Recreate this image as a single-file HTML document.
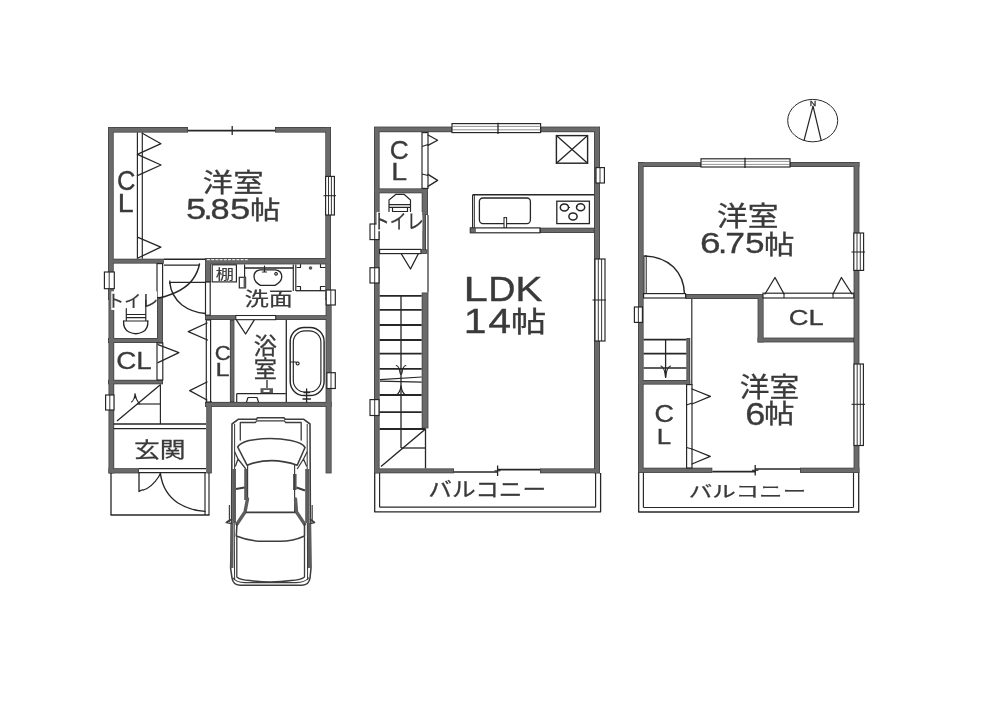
<!DOCTYPE html>
<html lang="ja"><head><meta charset="utf-8"><title>間取り図</title>
<style>html,body{margin:0;padding:0;background:#fff;font-family:"Liberation Sans",sans-serif}svg{display:block}</style>
</head><body>
<svg width="1000" height="706" viewBox="0 0 1000 706" style="filter:grayscale(1)">
<rect width="1000" height="706" fill="#fff"/>
<g id="walls">
<rect x="108.00" y="127.00" width="5.70" height="173.00" fill="#3a3f42"/>
<rect x="108.50" y="298.00" width="5.70" height="175.40" fill="#3a3f42"/>
<rect x="108.00" y="127.00" width="80.00" height="5.60" fill="#3a3f42"/>
<rect x="275.00" y="127.00" width="56.00" height="5.60" fill="#3a3f42"/>
<rect x="325.30" y="127.00" width="5.70" height="173.00" fill="#3a3f42"/>
<rect x="325.60" y="298.00" width="6.00" height="175.40" fill="#3a3f42"/>
<rect x="108.00" y="258.70" width="55.80" height="4.90" fill="#3a3f42"/>
<rect x="205.00" y="258.00" width="126.00" height="6.40" fill="#3a3f42"/>
<rect x="205.00" y="261.00" width="6.00" height="21.00" fill="#3a3f42"/>
<rect x="157.00" y="297.00" width="6.00" height="46.00" fill="#3a3f42"/>
<rect x="108.00" y="338.00" width="55.00" height="5.00" fill="#3a3f42"/>
<rect x="205.00" y="315.20" width="126.00" height="4.80" fill="#3a3f42"/>
<rect x="229.90" y="320.00" width="4.50" height="82.00" fill="#3a3f42"/>
<rect x="205.00" y="401.90" width="126.60" height="5.00" fill="#3a3f42"/>
<rect x="108.00" y="379.80" width="55.00" height="4.50" fill="#3a3f42"/>
<rect x="206.30" y="401.00" width="5.50" height="72.40" fill="#3a3f42"/>
<rect x="108.50" y="468.20" width="30.50" height="5.20" fill="#3a3f42"/>
<rect x="374.00" y="127.00" width="5.60" height="346.30" fill="#3a3f42"/>
<rect x="374.00" y="126.60" width="78.00" height="5.60" fill="#3a3f42"/>
<rect x="540.50" y="126.60" width="59.50" height="5.60" fill="#3a3f42"/>
<rect x="594.00" y="127.00" width="6.00" height="346.30" fill="#3a3f42"/>
<rect x="374.00" y="468.40" width="80.00" height="4.90" fill="#3a3f42"/>
<rect x="540.00" y="468.40" width="60.00" height="4.90" fill="#3a3f42"/>
<rect x="374.00" y="188.40" width="54.00" height="4.90" fill="#3a3f42"/>
<rect x="421.70" y="190.00" width="6.30" height="25.00" fill="#3a3f42"/>
<rect x="422.40" y="213.00" width="3.60" height="40.60" fill="#3a3f42"/>
<rect x="421.70" y="292.50" width="6.70" height="135.90" fill="#3a3f42"/>
<rect x="540.00" y="227.70" width="54.50" height="5.30" fill="#3a3f42"/>
<rect x="638.00" y="162.20" width="5.60" height="310.80" fill="#3a3f42"/>
<rect x="638.00" y="162.20" width="63.00" height="4.80" fill="#3a3f42"/>
<rect x="790.00" y="162.00" width="69.40" height="5.00" fill="#3a3f42"/>
<rect x="853.60" y="162.00" width="5.80" height="311.00" fill="#3a3f42"/>
<rect x="638.00" y="467.70" width="74.30" height="5.20" fill="#3a3f42"/>
<rect x="800.00" y="467.70" width="59.40" height="5.20" fill="#3a3f42"/>
<rect x="685.60" y="294.00" width="77.40" height="5.00" fill="#3a3f42"/>
<rect x="757.60" y="294.00" width="6.00" height="48.40" fill="#3a3f42"/>
<rect x="757.60" y="337.60" width="96.40" height="4.80" fill="#3a3f42"/>
<rect x="686.40" y="338.00" width="3.80" height="47.00" fill="#3a3f42"/>
<rect x="638.00" y="380.00" width="52.20" height="4.60" fill="#3a3f42"/>
<rect x="108.75" y="127.75" width="4.20" height="171.50" fill="#646b6e"/>
<rect x="109.25" y="298.75" width="4.20" height="173.90" fill="#646b6e"/>
<rect x="108.75" y="127.75" width="78.50" height="4.10" fill="#646b6e"/>
<rect x="275.75" y="127.75" width="54.50" height="4.10" fill="#646b6e"/>
<rect x="326.05" y="127.75" width="4.20" height="171.50" fill="#646b6e"/>
<rect x="326.35" y="298.75" width="4.50" height="173.90" fill="#646b6e"/>
<rect x="108.75" y="259.45" width="54.30" height="3.40" fill="#646b6e"/>
<rect x="205.75" y="258.75" width="124.50" height="4.90" fill="#646b6e"/>
<rect x="205.75" y="261.75" width="4.50" height="19.50" fill="#646b6e"/>
<rect x="157.75" y="297.75" width="4.50" height="44.50" fill="#646b6e"/>
<rect x="108.75" y="338.75" width="53.50" height="3.50" fill="#646b6e"/>
<rect x="205.75" y="315.95" width="124.50" height="3.30" fill="#646b6e"/>
<rect x="230.65" y="320.75" width="3.00" height="80.50" fill="#646b6e"/>
<rect x="205.75" y="402.65" width="125.10" height="3.50" fill="#646b6e"/>
<rect x="108.75" y="380.55" width="53.50" height="3.00" fill="#646b6e"/>
<rect x="207.05" y="401.75" width="4.00" height="70.90" fill="#646b6e"/>
<rect x="109.25" y="468.95" width="29.00" height="3.70" fill="#646b6e"/>
<rect x="374.75" y="127.75" width="4.10" height="344.80" fill="#646b6e"/>
<rect x="374.75" y="127.35" width="76.50" height="4.10" fill="#646b6e"/>
<rect x="541.25" y="127.35" width="58.00" height="4.10" fill="#646b6e"/>
<rect x="594.75" y="127.75" width="4.50" height="344.80" fill="#646b6e"/>
<rect x="374.75" y="469.15" width="78.50" height="3.40" fill="#646b6e"/>
<rect x="540.75" y="469.15" width="58.50" height="3.40" fill="#646b6e"/>
<rect x="374.75" y="189.15" width="52.50" height="3.40" fill="#646b6e"/>
<rect x="422.45" y="190.75" width="4.80" height="23.50" fill="#646b6e"/>
<rect x="423.15" y="213.75" width="2.10" height="39.10" fill="#646b6e"/>
<rect x="422.45" y="293.25" width="5.20" height="134.40" fill="#646b6e"/>
<rect x="540.75" y="228.45" width="53.00" height="3.80" fill="#646b6e"/>
<rect x="638.75" y="162.95" width="4.10" height="309.30" fill="#646b6e"/>
<rect x="638.75" y="162.95" width="61.50" height="3.30" fill="#646b6e"/>
<rect x="790.75" y="162.75" width="67.90" height="3.50" fill="#646b6e"/>
<rect x="854.35" y="162.75" width="4.30" height="309.50" fill="#646b6e"/>
<rect x="638.75" y="468.45" width="72.80" height="3.70" fill="#646b6e"/>
<rect x="800.75" y="468.45" width="57.90" height="3.70" fill="#646b6e"/>
<rect x="686.35" y="294.75" width="75.90" height="3.50" fill="#646b6e"/>
<rect x="758.35" y="294.75" width="4.50" height="46.90" fill="#646b6e"/>
<rect x="758.35" y="338.35" width="94.90" height="3.30" fill="#646b6e"/>
<rect x="687.15" y="338.75" width="2.30" height="45.50" fill="#646b6e"/>
<rect x="638.75" y="380.75" width="50.70" height="3.10" fill="#646b6e"/>
</g>
<g id="b1">
<line x1="188.00" y1="130.60" x2="275.00" y2="130.60" stroke="#262626" stroke-width="1.56"/>
<line x1="232.20" y1="126.00" x2="232.20" y2="135.00" stroke="#262626" stroke-width="1.30"/>
<rect x="325.60" y="176.40" width="8.80" height="38.60" rx="0" fill="#fff" stroke="#262626" stroke-width="1.17"/>
<line x1="328.50" y1="176.40" x2="328.50" y2="215.00" stroke="#262626" stroke-width="0.91"/>
<line x1="331.40" y1="176.40" x2="331.40" y2="215.00" stroke="#262626" stroke-width="0.91"/>
<line x1="323.50" y1="195.70" x2="336.00" y2="195.70" stroke="#262626" stroke-width="1.04"/>
<line x1="137.40" y1="132.60" x2="137.40" y2="258.70" stroke="#262626" stroke-width="1.17"/>
<line x1="142.30" y1="132.60" x2="142.30" y2="258.70" stroke="#262626" stroke-width="1.17"/>
<path d="M142.30 133.20 L161.00 143.70 L137.40 154.30 L161.00 165.00 L137.40 175.60" fill="none" stroke="#262626" stroke-width="1.30" stroke-linejoin="round" stroke-linecap="round" />
<path d="M138.00 237.40 L160.80 247.20 L138.00 258.00" fill="none" stroke="#262626" stroke-width="1.30" stroke-linejoin="round" stroke-linecap="round" />
<text transform="matrix(0.25501 0 0 0.27048 116.88 189.56)" font-family="Liberation Sans, sans-serif" font-size="100" font-weight="normal" letter-spacing="0.0" fill="#3a3a3a" stroke="#3a3a3a" stroke-width="1.33">C</text>
<text transform="matrix(0.28690 0 0 0.26381 117.82 211.82)" font-family="Liberation Sans, sans-serif" font-size="100" font-weight="normal" letter-spacing="0.0" fill="#3a3a3a" stroke="#3a3a3a" stroke-width="1.27">L</text>
<line x1="163.80" y1="259.30" x2="205.00" y2="259.30" stroke="#262626" stroke-width="1.43"/>
<line x1="207" y1="259.7" x2="249" y2="259.7" stroke="#fff" stroke-width="1" stroke-dasharray="3 1.2"/>
<rect x="157.00" y="263.60" width="5.60" height="33.90" rx="0" fill="#fff" stroke="#262626" stroke-width="1.17"/>
<rect x="104.40" y="272.00" width="9.90" height="16.70" rx="0" fill="#fff" stroke="#262626" stroke-width="1.17"/>
<line x1="109.20" y1="272.00" x2="109.20" y2="288.70" stroke="#262626" stroke-width="0.91"/>
<rect x="111.30" y="291.40" width="45.70" height="18.60" fill="#fff"/>
<text transform="matrix(0.1704 0 0 0.1690 107.12 307.19)" font-family="'Liberation Sans', 'Noto Sans CJK JP', sans-serif" font-size="100" font-weight="normal" fill="#3a3a3a" stroke="#3a3a3a" stroke-width="1.5">トイレ</text>
<path d="M126.3 308.5 L126.3 321 M145.8 300 L145.8 321 M126.3 314.5 L145.8 314.5 M126.3 317.7 L145.8 317.7 M124 321 L148 321" fill="none" stroke="#262626" stroke-width="1.17" stroke-linejoin="round" stroke-linecap="round" />
<path d="M123.6 321 Q123 329 129 332 Q136 335.5 142.5 332 Q148.5 329 147.8 321" fill="none" stroke="#262626" stroke-width="1.30" stroke-linejoin="round" stroke-linecap="round" />
<line x1="163.80" y1="265.10" x2="199.00" y2="265.10" stroke="#262626" stroke-width="1.30"/>
<path d="M199.5 264 Q198 272 193 279 Q184 292 159 298" fill="none" stroke="#262626" stroke-width="1.43" stroke-linejoin="round" stroke-linecap="round" />
<line x1="169.80" y1="282.40" x2="205.50" y2="282.40" stroke="#262626" stroke-width="1.30"/>
<line x1="169.80" y1="280.50" x2="169.80" y2="284.00" stroke="#262626" stroke-width="1.17"/>
<path d="M169.8 282.4 Q171 296 182 305 Q192 312.5 205.5 313.5" fill="none" stroke="#262626" stroke-width="1.43" stroke-linejoin="round" stroke-linecap="round" />
<rect x="205.50" y="282.00" width="4.70" height="33.20" rx="0" fill="#fff" stroke="#262626" stroke-width="1.17"/>
<rect x="235.80" y="315.50" width="39.90" height="4.20" rx="0" fill="#fff" stroke="#262626" stroke-width="1.04"/>
<rect x="212.20" y="264.80" width="24.20" height="17.10" rx="0" fill="#fff" stroke="#262626" stroke-width="1.17"/>
<text transform="matrix(0.1825 0 0 0.1350 215.70 278.94)" font-family="'Liberation Sans', 'Noto Sans CJK JP', sans-serif" font-size="100" font-weight="normal" fill="#3a3a3a" stroke="#3a3a3a" stroke-width="1.0">棚</text>
<line x1="244.60" y1="268.00" x2="293.30" y2="268.00" stroke="#262626" stroke-width="1.30"/>
<line x1="244.60" y1="264.40" x2="244.60" y2="288.00" stroke="#262626" stroke-width="1.17"/>
<line x1="293.30" y1="264.40" x2="293.30" y2="291.00" stroke="#262626" stroke-width="1.17"/>
<line x1="295.80" y1="264.40" x2="295.80" y2="291.00" stroke="#262626" stroke-width="1.17"/>
<path d="M260 269.8 L275.5 269.8 Q281.8 270.5 281.8 277 Q281.5 282 275 285.3 L260.5 285.3 Q254.2 282 254 277 Q254 270.5 260 269.8 Z" fill="none" stroke="#262626" stroke-width="1.30" stroke-linejoin="round" stroke-linecap="round" />
<path d="M264.5 266 L264.5 272 M262.5 272 L266.5 272 M276 272.5 a1.3 1.3 0 1 0 0.1 0" fill="none" stroke="#262626" stroke-width="1.17" stroke-linejoin="round" stroke-linecap="round" />
<rect x="239.30" y="277.30" width="6.30" height="10.60" rx="0" fill="#fff" stroke="#262626" stroke-width="1.17"/>
<rect x="243.60" y="277.30" width="2.20" height="10.60" fill="#565b5e"/>
<line x1="295.80" y1="290.70" x2="325.30" y2="290.70" stroke="#262626" stroke-width="1.30"/>
<path d="M297 267.5 L300.5 267.5 L300.5 264.5 M320.5 264.5 L320.5 267.5 L325 267.5 M297 286.5 L300.5 286.5 L300.5 290.5 M320.5 290.5 L320.5 286.5 L325 286.5" fill="none" stroke="#262626" stroke-width="1.17" stroke-linejoin="round" stroke-linecap="round" />
<circle cx="310.5" cy="268" r="1.8" fill="#555"/>
<rect x="326.20" y="290.00" width="9.10" height="15.00" rx="0" fill="#fff" stroke="#262626" stroke-width="1.17"/>
<line x1="330.80" y1="290.00" x2="330.80" y2="305.00" stroke="#262626" stroke-width="0.91"/>
<text transform="matrix(0.2406 0 0 0.1913 244.78 306.43)" font-family="'Liberation Sans', 'Noto Sans CJK JP', sans-serif" font-size="100" font-weight="normal" fill="#3a3a3a" stroke="#3a3a3a" stroke-width="1.3">洗面</text>
<rect x="206.30" y="320.00" width="4.30" height="82.00" rx="0" fill="#fff" stroke="#262626" stroke-width="1.17"/>
<text transform="matrix(0.22185 0 0 0.20268 214.65 360.13)" font-family="Liberation Sans, sans-serif" font-size="100" font-weight="normal" letter-spacing="0.0" fill="#3a3a3a" stroke="#3a3a3a" stroke-width="1.65">C</text>
<text transform="matrix(0.25288 0 0 0.18678 215.60 375.82)" font-family="Liberation Sans, sans-serif" font-size="100" font-weight="normal" letter-spacing="0.0" fill="#3a3a3a" stroke="#3a3a3a" stroke-width="1.59">L</text>
<path d="M207.00 323.00 L188.30 331.70 L207.50 340.00" fill="none" stroke="#262626" stroke-width="1.30" stroke-linejoin="round" stroke-linecap="round" />
<path d="M207.00 382.00 L189.70 390.60 L207.00 400.00" fill="none" stroke="#262626" stroke-width="1.30" stroke-linejoin="round" stroke-linecap="round" />
<path d="M236.70 320.30 L245.60 334.00 L254.00 320.30" fill="none" stroke="#262626" stroke-width="1.30" stroke-linejoin="round" stroke-linecap="round" />
<text transform="matrix(0.2318 0 0 0.2290 253.83 353.94)" font-family="'Liberation Sans', 'Noto Sans CJK JP', sans-serif" font-size="100" font-weight="normal" fill="#3a3a3a" stroke="#3a3a3a" stroke-width="1.3"><tspan x="0" y="0">浴</tspan><tspan x="0" y="100">室</tspan></text>
<line x1="267.00" y1="380.00" x2="267.00" y2="388.00" stroke="#262626" stroke-width="1.30"/>
<rect x="260.50" y="388.20" width="12.50" height="5.00" fill="#565b5e"/>
<rect x="263.50" y="390.00" width="6.00" height="2.00" fill="#fff"/>
<line x1="236.70" y1="393.70" x2="285.80" y2="393.70" stroke="#262626" stroke-width="1.30"/>
<line x1="236.70" y1="393.70" x2="236.70" y2="402.00" stroke="#262626" stroke-width="1.17"/>
<path d="M246.5 402 L248 397.5 L257 397.5 L258.5 402" fill="none" stroke="#262626" stroke-width="1.17" stroke-linejoin="round" stroke-linecap="round" />
<line x1="286.30" y1="320.00" x2="286.30" y2="402.00" stroke="#262626" stroke-width="1.30"/>
<rect x="290.20" y="327.50" width="33.90" height="68.00" rx="14" fill="#fff" stroke="#262626" stroke-width="1.43"/>
<rect x="293.30" y="330.80" width="27.60" height="61.20" rx="11.5" fill="#fff" stroke="#262626" stroke-width="1.17"/>
<path d="M290.5 362 L296 362 M297.6 362 a1.5 1.5 0 1 0 0.1 0" fill="none" stroke="#262626" stroke-width="1.17" stroke-linejoin="round" stroke-linecap="round" />
<path d="M306.6 389 L306.6 402 M304 392.5 L309.5 392.5 M303 399 L310.5 399" fill="none" stroke="#262626" stroke-width="1.30" stroke-linejoin="round" stroke-linecap="round" />
<rect x="326.90" y="372.70" width="8.40" height="15.80" rx="0" fill="#fff" stroke="#262626" stroke-width="1.17"/>
<line x1="331.00" y1="372.70" x2="331.00" y2="388.50" stroke="#262626" stroke-width="0.91"/>
<rect x="157.00" y="343.00" width="5.80" height="37.00" rx="0" fill="#fff" stroke="#262626" stroke-width="1.17"/>
<path d="M158.00 344.60 L178.90 352.60 L158.00 362.60" fill="none" stroke="#262626" stroke-width="1.30" stroke-linejoin="round" stroke-linecap="round" />
<text transform="matrix(0.27840 0 0 0.24364 116.16 369.19)" font-family="Liberation Sans, sans-serif" font-size="100" font-weight="normal" letter-spacing="0.0" fill="#3a3a3a" stroke="#3a3a3a" stroke-width="1.34">CL</text>
<line x1="160.40" y1="384.30" x2="160.40" y2="424.00" stroke="#262626" stroke-width="1.17"/>
<line x1="160.00" y1="385.00" x2="117.00" y2="421.00" stroke="#262626" stroke-width="1.30"/>
<line x1="137.00" y1="404.00" x2="160.40" y2="404.00" stroke="#262626" stroke-width="1.17"/>
<path d="M131.5 402 Q134.5 400 135 393.5 Q136 400 139.5 404 M135 393.5 L135 398" fill="none" stroke="#262626" stroke-width="1.04" stroke-linejoin="round" stroke-linecap="round" />
<rect x="105.60" y="395.00" width="8.40" height="15.00" rx="0" fill="#fff" stroke="#262626" stroke-width="1.17"/>
<line x1="109.80" y1="395.00" x2="109.80" y2="410.00" stroke="#262626" stroke-width="0.91"/>
<line x1="113.70" y1="424.00" x2="206.00" y2="424.00" stroke="#262626" stroke-width="1.30"/>
<line x1="113.70" y1="428.60" x2="206.00" y2="428.60" stroke="#262626" stroke-width="1.30"/>
<text transform="matrix(0.2578 0 0 0.2101 134.01 456.58)" font-family="'Liberation Sans', 'Noto Sans CJK JP', sans-serif" font-size="100" font-weight="normal" fill="#3a3a3a" stroke="#3a3a3a" stroke-width="1.3">玄関</text>
<line x1="139.00" y1="468.60" x2="206.00" y2="468.60" stroke="#262626" stroke-width="1.17"/>
<line x1="139.00" y1="472.60" x2="206.00" y2="472.60" stroke="#262626" stroke-width="1.17"/>
<line x1="111.00" y1="473.00" x2="111.00" y2="515.00" stroke="#262626" stroke-width="1.30"/>
<line x1="110.50" y1="515.00" x2="209.50" y2="515.00" stroke="#262626" stroke-width="1.43"/>
<line x1="205.00" y1="473.00" x2="205.00" y2="515.00" stroke="#262626" stroke-width="1.17"/>
<line x1="209.00" y1="473.00" x2="209.00" y2="515.00" stroke="#262626" stroke-width="1.17"/>
<path d="M139 473 L139 491.6 Q141.5 489.5 143.5 490 Q152 487 158.5 477 L160.4 473.5" fill="none" stroke="#262626" stroke-width="1.30" stroke-linejoin="round" stroke-linecap="round" />
<path d="M160.4 473.5 Q163 493 178 503 Q190 510.5 205 511.4" fill="none" stroke="#262626" stroke-width="1.43" stroke-linejoin="round" stroke-linecap="round" />
</g>
<g id="t1">
<text transform="matrix(0.3043 0 0 0.2578 202.72 191.80)" font-family="'Liberation Sans', 'Noto Sans CJK JP', sans-serif" font-size="100" font-weight="normal" fill="#3a3a3a" stroke="#3a3a3a" stroke-width="1.2">洋室</text>
<text transform="matrix(0.36172 0 0 0.29882 186.03 218.73)" font-family="Liberation Sans, sans-serif" font-size="100" font-weight="normal" letter-spacing="0.0" fill="#3a3a3a" stroke="#3a3a3a" stroke-width="1.06">5</text>
<text transform="matrix(0.34417 0 0 0.29449 210.58 218.74)" font-family="Liberation Sans, sans-serif" font-size="100" font-weight="normal" letter-spacing="0.0" fill="#3a3a3a" stroke="#3a3a3a" stroke-width="1.10">8</text>
<text transform="matrix(0.36383 0 0 0.29882 229.92 218.73)" font-family="Liberation Sans, sans-serif" font-size="100" font-weight="normal" letter-spacing="0.0" fill="#3a3a3a" stroke="#3a3a3a" stroke-width="1.06">5</text>
<text transform="matrix(0.34133 0 0 0.32263 203.26 219.02)" font-family="Liberation Sans, sans-serif" font-size="100" font-weight="normal" letter-spacing="0.0" fill="#3a3a3a" stroke="#3a3a3a" stroke-width="1.05">.</text>
<text transform="matrix(0.3047 0 0 0.2523 250.05 218.84)" font-family="'Liberation Sans', 'Noto Sans CJK JP', sans-serif" font-size="100" font-weight="normal" fill="#3a3a3a" stroke="#3a3a3a" stroke-width="1.2">帖</text>
</g>
<g id="b2">
<rect x="452.00" y="123.60" width="88.60" height="9.00" rx="0" fill="#fff" stroke="#262626" stroke-width="1.17"/>
<line x1="452.00" y1="126.40" x2="540.60" y2="126.40" stroke="#777" stroke-width="0.78"/>
<line x1="452.00" y1="129.80" x2="540.60" y2="129.80" stroke="#777" stroke-width="0.78"/>
<line x1="498.00" y1="122.80" x2="498.00" y2="134.00" stroke="#262626" stroke-width="1.30"/>
<line x1="454.00" y1="472.00" x2="498.00" y2="472.00" stroke="#262626" stroke-width="1.56"/>
<line x1="497.00" y1="469.60" x2="540.00" y2="469.60" stroke="#262626" stroke-width="1.56"/>
<line x1="497.60" y1="465.50" x2="497.60" y2="476.00" stroke="#262626" stroke-width="1.30"/>
<line x1="494.50" y1="470.80" x2="500.50" y2="470.80" stroke="#262626" stroke-width="1.04"/>
<rect x="596.00" y="167.60" width="8.40" height="15.40" rx="0" fill="#fff" stroke="#262626" stroke-width="1.17"/>
<line x1="600.00" y1="167.60" x2="600.00" y2="183.00" stroke="#262626" stroke-width="0.91"/>
<rect x="595.00" y="259.00" width="10.00" height="82.00" rx="0" fill="#fff" stroke="#262626" stroke-width="1.17"/>
<line x1="598.30" y1="259.00" x2="598.30" y2="341.00" stroke="#262626" stroke-width="0.91"/>
<line x1="601.60" y1="259.00" x2="601.60" y2="341.00" stroke="#262626" stroke-width="0.91"/>
<line x1="592.50" y1="300.00" x2="606.00" y2="300.00" stroke="#262626" stroke-width="1.04"/>
<rect x="422.00" y="132.60" width="6.00" height="55.80" rx="0" fill="#fff" stroke="#262626" stroke-width="1.17"/>
<path d="M428.00 135.00 L437.60 140.20 L428.00 145.40" fill="none" stroke="#262626" stroke-width="1.30" stroke-linejoin="round" stroke-linecap="round" />
<line x1="422.00" y1="146.50" x2="428.00" y2="144.50" stroke="#262626" stroke-width="1.04"/>
<path d="M428.00 174.40 L437.60 180.40 L428.00 186.40" fill="none" stroke="#262626" stroke-width="1.30" stroke-linejoin="round" stroke-linecap="round" />
<line x1="422.00" y1="174.00" x2="428.00" y2="175.50" stroke="#262626" stroke-width="1.04"/>
<text transform="matrix(0.26291 0 0 0.24929 389.84 158.58)" font-family="Liberation Sans, sans-serif" font-size="100" font-weight="normal" letter-spacing="0.0" fill="#3a3a3a" stroke="#3a3a3a" stroke-width="1.37">C</text>
<text transform="matrix(0.28463 0 0 0.24201 391.34 179.82)" font-family="Liberation Sans, sans-serif" font-size="100" font-weight="normal" letter-spacing="0.0" fill="#3a3a3a" stroke="#3a3a3a" stroke-width="1.33">L</text>
<line x1="428.00" y1="215.00" x2="428.00" y2="292.50" stroke="#262626" stroke-width="1.17"/>
<path d="M389 211.5 L389 200 L396 194.3 L404 194.3 L410.5 200 L410.5 211.5 M389 204.6 L410.5 204.6 M389 207.3 L410.5 207.3 M392.5 207.3 L392.5 211.5 L407.5 211.5 L407.5 207.3" fill="none" stroke="#262626" stroke-width="1.17" stroke-linejoin="round" stroke-linecap="round" />
<rect x="370.00" y="224.00" width="9.00" height="15.60" rx="0" fill="#fff" stroke="#262626" stroke-width="1.17"/>
<line x1="374.70" y1="224.00" x2="374.70" y2="239.60" stroke="#262626" stroke-width="0.91"/>
<rect x="376.60" y="212.00" width="45.60" height="19.20" fill="#fff"/>
<text transform="matrix(0.1696 0 0 0.2007 372.74 229.27)" font-family="'Liberation Sans', 'Noto Sans CJK JP', sans-serif" font-size="100" font-weight="normal" fill="#3a3a3a" stroke="#3a3a3a" stroke-width="1.5">トイレ</text>
<rect x="379.60" y="249.40" width="41.40" height="4.20" rx="0" fill="#fff" stroke="#262626" stroke-width="1.17"/>
<rect x="421.00" y="249.40" width="6.40" height="4.40" fill="#3a3f42"/>
<rect x="421.75" y="250.15" width="4.90" height="2.90" fill="#646b6e"/>
<path d="M401.40 254.00 L410.50 269.00 L418.20 254.00" fill="none" stroke="#262626" stroke-width="1.30" stroke-linejoin="round" stroke-linecap="round" />
<rect x="370.00" y="267.70" width="9.00" height="15.30" rx="0" fill="#fff" stroke="#262626" stroke-width="1.17"/>
<line x1="374.70" y1="267.70" x2="374.70" y2="283.00" stroke="#262626" stroke-width="0.91"/>
<line x1="379.60" y1="295.80" x2="421.70" y2="295.80" stroke="#262626" stroke-width="1.82"/>
<line x1="379.60" y1="309.80" x2="421.70" y2="309.80" stroke="#262626" stroke-width="1.82"/>
<line x1="379.60" y1="325.00" x2="421.70" y2="325.00" stroke="#262626" stroke-width="1.82"/>
<line x1="379.60" y1="340.00" x2="421.70" y2="340.00" stroke="#262626" stroke-width="1.82"/>
<line x1="379.60" y1="353.60" x2="421.70" y2="353.60" stroke="#262626" stroke-width="1.82"/>
<line x1="379.60" y1="368.80" x2="421.70" y2="368.80" stroke="#262626" stroke-width="1.82"/>
<line x1="379.60" y1="395.00" x2="421.70" y2="395.00" stroke="#262626" stroke-width="1.82"/>
<line x1="379.60" y1="412.20" x2="421.70" y2="412.20" stroke="#262626" stroke-width="1.82"/>
<line x1="379.60" y1="429.00" x2="425.50" y2="429.00" stroke="#262626" stroke-width="1.82"/>
<line x1="401.00" y1="295.80" x2="401.00" y2="448.00" stroke="#262626" stroke-width="1.30"/>
<line x1="380.00" y1="379.60" x2="421.70" y2="377.00" stroke="#262626" stroke-width="1.17"/>
<line x1="380.00" y1="381.20" x2="421.70" y2="382.20" stroke="#262626" stroke-width="1.17"/>
<path d="M396.3 365.5 Q399 366 400 372.5 Q401 376.5 402 372.5 Q403 366 405.8 365.5" fill="none" stroke="#262626" stroke-width="1.17" stroke-linejoin="round" stroke-linecap="round" />
<path d="M396.3 395 Q400 393 401 385.8 Q402 393 405.7 395" fill="none" stroke="#262626" stroke-width="1.17" stroke-linejoin="round" stroke-linecap="round" />
<rect x="370.00" y="399.60" width="9.00" height="15.90" rx="0" fill="#fff" stroke="#262626" stroke-width="1.17"/>
<line x1="374.70" y1="399.60" x2="374.70" y2="415.50" stroke="#262626" stroke-width="0.91"/>
<line x1="425.50" y1="429.00" x2="425.50" y2="468.40" stroke="#262626" stroke-width="1.30"/>
<line x1="425.50" y1="429.00" x2="381.00" y2="466.50" stroke="#262626" stroke-width="1.43"/>
<line x1="401.00" y1="448.00" x2="425.50" y2="448.00" stroke="#262626" stroke-width="1.30"/>
<line x1="472.60" y1="194.80" x2="594.00" y2="194.80" stroke="#262626" stroke-width="1.43"/>
<line x1="472.60" y1="194.80" x2="472.60" y2="228.00" stroke="#262626" stroke-width="1.17"/>
<line x1="474.40" y1="194.80" x2="474.40" y2="228.00" stroke="#262626" stroke-width="0.91"/>
<rect x="479.40" y="198.00" width="51.00" height="25.60" rx="3.5" fill="#fff" stroke="#262626" stroke-width="1.30"/>
<rect x="504.00" y="217.60" width="2.60" height="10.40" rx="0" fill="#fff" stroke="#262626" stroke-width="1.04"/>
<rect x="556.80" y="201.20" width="32.60" height="22.40" rx="0" fill="#fff" stroke="#262626" stroke-width="1.30"/>
<ellipse cx="564.4" cy="207.4" rx="4.1" ry="3.5" fill="#fff" stroke="#262626" stroke-width="1.5"/>
<ellipse cx="580.6" cy="207.2" rx="4.1" ry="3.5" fill="#fff" stroke="#262626" stroke-width="1.5"/>
<ellipse cx="573" cy="216.4" rx="4.1" ry="3.5" fill="#fff" stroke="#262626" stroke-width="1.5"/>
<line x1="576.00" y1="206.00" x2="578.00" y2="206.00" stroke="#262626" stroke-width="1.04"/>
<line x1="568.00" y1="207.50" x2="570.00" y2="207.50" stroke="#262626" stroke-width="1.04"/>
<rect x="470.30" y="227.90" width="69.70" height="4.90" rx="0" fill="#fff" stroke="#262626" stroke-width="1.17"/>
<rect x="470.00" y="227.70" width="5.70" height="5.30" fill="#3a3f42"/>
<rect x="470.75" y="228.45" width="4.20" height="3.80" fill="#646b6e"/>
<rect x="556.40" y="135.60" width="31.20" height="27.60" rx="0" fill="#fff" stroke="#262626" stroke-width="1.43"/>
<line x1="556.40" y1="135.60" x2="587.60" y2="163.20" stroke="#262626" stroke-width="1.30"/>
<line x1="587.60" y1="135.60" x2="556.40" y2="163.20" stroke="#262626" stroke-width="1.30"/>
<text transform="matrix(0.43886 0 0 0.34812 463.58 301.12)" font-family="Liberation Sans, sans-serif" font-size="100" font-weight="normal" letter-spacing="0.0" fill="#3a3a3a" stroke="#3a3a3a" stroke-width="0.89">L</text>
<text transform="matrix(0.37735 0 0 0.34812 488.28 301.12)" font-family="Liberation Sans, sans-serif" font-size="100" font-weight="normal" letter-spacing="0.0" fill="#3a3a3a" stroke="#3a3a3a" stroke-width="0.96">D</text>
<text transform="matrix(0.40873 0 0 0.34812 515.22 301.12)" font-family="Liberation Sans, sans-serif" font-size="100" font-weight="normal" letter-spacing="0.0" fill="#3a3a3a" stroke="#3a3a3a" stroke-width="0.92">K</text>
<text transform="matrix(0.40980 0 0 0.35538 463.70 332.82)" font-family="Liberation Sans, sans-serif" font-size="100" font-weight="normal" letter-spacing="0.0" fill="#3a3a3a" stroke="#3a3a3a" stroke-width="0.91">1</text>
<text transform="matrix(0.40980 0 0 0.35538 488.23 332.82)" font-family="Liberation Sans, sans-serif" font-size="100" font-weight="normal" letter-spacing="0.0" fill="#3a3a3a" stroke="#3a3a3a" stroke-width="0.91">4</text>
<text transform="matrix(0.3559 0 0 0.2855 510.65 331.61)" font-family="'Liberation Sans', 'Noto Sans CJK JP', sans-serif" font-size="100" font-weight="normal" fill="#3a3a3a" stroke="#3a3a3a" stroke-width="1.0">帖</text>
<line x1="374.70" y1="473.00" x2="374.70" y2="511.90" stroke="#262626" stroke-width="1.30"/>
<line x1="379.60" y1="473.00" x2="379.60" y2="507.20" stroke="#262626" stroke-width="1.17"/>
<line x1="379.60" y1="507.20" x2="595.60" y2="507.20" stroke="#262626" stroke-width="1.17"/>
<line x1="374.20" y1="511.90" x2="601.00" y2="511.90" stroke="#262626" stroke-width="1.43"/>
<line x1="595.60" y1="473.00" x2="595.60" y2="507.20" stroke="#262626" stroke-width="1.17"/>
<line x1="600.60" y1="473.00" x2="600.60" y2="511.90" stroke="#262626" stroke-width="1.30"/>
<text transform="matrix(0.2370 0 0 0.2034 428.23 497.38)" font-family="'Liberation Sans', 'Noto Sans CJK JP', sans-serif" font-size="100" font-weight="normal" fill="#3a3a3a" stroke="#3a3a3a" stroke-width="1.5">バルコニー</text>
</g>
<g id="b3">
<rect x="701.00" y="158.80" width="89.00" height="8.20" rx="0" fill="#fff" stroke="#262626" stroke-width="1.17"/>
<line x1="701.00" y1="161.40" x2="790.00" y2="161.40" stroke="#777" stroke-width="0.78"/>
<line x1="701.00" y1="164.40" x2="790.00" y2="164.40" stroke="#777" stroke-width="0.78"/>
<line x1="745.00" y1="157.80" x2="745.00" y2="168.00" stroke="#262626" stroke-width="1.30"/>
<line x1="712.30" y1="471.60" x2="756.00" y2="471.60" stroke="#262626" stroke-width="1.56"/>
<line x1="755.00" y1="469.00" x2="800.00" y2="469.00" stroke="#262626" stroke-width="1.56"/>
<line x1="755.20" y1="465.00" x2="755.20" y2="475.50" stroke="#262626" stroke-width="1.30"/>
<line x1="752.00" y1="470.30" x2="758.50" y2="470.30" stroke="#262626" stroke-width="1.04"/>
<rect x="853.80" y="233.00" width="9.80" height="37.40" rx="0" fill="#fff" stroke="#262626" stroke-width="1.17"/>
<line x1="857.00" y1="233.00" x2="857.00" y2="270.40" stroke="#262626" stroke-width="0.91"/>
<line x1="860.30" y1="233.00" x2="860.30" y2="270.40" stroke="#262626" stroke-width="0.91"/>
<line x1="851.50" y1="252.00" x2="865.00" y2="252.00" stroke="#262626" stroke-width="1.04"/>
<rect x="854.00" y="364.00" width="9.40" height="81.50" rx="0" fill="#fff" stroke="#262626" stroke-width="1.17"/>
<line x1="857.20" y1="364.00" x2="857.20" y2="445.50" stroke="#262626" stroke-width="0.91"/>
<line x1="860.30" y1="364.00" x2="860.30" y2="445.50" stroke="#262626" stroke-width="0.91"/>
<line x1="851.50" y1="404.30" x2="865.00" y2="404.30" stroke="#262626" stroke-width="1.04"/>
<rect x="634.40" y="307.00" width="8.00" height="15.40" rx="0" fill="#fff" stroke="#262626" stroke-width="1.17"/>
<line x1="638.40" y1="307.00" x2="638.40" y2="322.40" stroke="#262626" stroke-width="0.91"/>
<rect x="644.00" y="256.00" width="2.20" height="37.60" rx="0" fill="#fff" stroke="#262626" stroke-width="1.04"/>
<path d="M645 256 Q662 256.5 673.5 267 Q684 277.5 684.5 294" fill="none" stroke="#262626" stroke-width="1.43" stroke-linejoin="round" stroke-linecap="round" />
<rect x="643.60" y="293.60" width="42.00" height="4.40" rx="0" fill="#fff" stroke="#262626" stroke-width="1.17"/>
<rect x="763.00" y="293.20" width="90.80" height="4.80" rx="0" fill="#fff" stroke="#262626" stroke-width="1.17"/>
<line x1="784.00" y1="293.20" x2="784.00" y2="298.00" stroke="#262626" stroke-width="1.04"/>
<line x1="833.00" y1="293.20" x2="833.00" y2="298.00" stroke="#262626" stroke-width="1.04"/>
<path d="M765.00 294.00 L775.00 277.50 L784.00 294.00" fill="none" stroke="#262626" stroke-width="1.30" stroke-linejoin="round" stroke-linecap="round" />
<path d="M833.00 294.00 L841.40 277.50 L852.00 294.00" fill="none" stroke="#262626" stroke-width="1.30" stroke-linejoin="round" stroke-linecap="round" />
<text transform="matrix(0.27337 0 0 0.21822 788.79 324.61)" font-family="Liberation Sans, sans-serif" font-size="100" font-weight="normal" letter-spacing="0.0" fill="#3a3a3a" stroke="#3a3a3a" stroke-width="1.42">CL</text>
<line x1="691.80" y1="299.00" x2="691.80" y2="385.00" stroke="#262626" stroke-width="1.17"/>
<line x1="643.60" y1="339.60" x2="686.40" y2="339.60" stroke="#262626" stroke-width="1.69"/>
<line x1="643.60" y1="353.60" x2="686.40" y2="353.60" stroke="#262626" stroke-width="1.69"/>
<line x1="643.60" y1="368.00" x2="686.40" y2="368.00" stroke="#262626" stroke-width="1.69"/>
<line x1="665.60" y1="339.60" x2="665.60" y2="377.50" stroke="#262626" stroke-width="1.30"/>
<path d="M661 366 Q664.5 367 665.6 377.5 Q666.7 367 670.5 366" fill="none" stroke="#262626" stroke-width="1.17" stroke-linejoin="round" stroke-linecap="round" />
<rect x="686.60" y="384.60" width="5.40" height="83.40" rx="0" fill="#fff" stroke="#262626" stroke-width="1.17"/>
<path d="M692.00 389.00 L710.40 396.40 L692.00 404.00" fill="none" stroke="#262626" stroke-width="1.30" stroke-linejoin="round" stroke-linecap="round" />
<line x1="686.60" y1="405.00" x2="692.00" y2="403.00" stroke="#262626" stroke-width="1.04"/>
<path d="M692.00 449.00 L710.20 456.40 L692.00 464.00" fill="none" stroke="#262626" stroke-width="1.30" stroke-linejoin="round" stroke-linecap="round" />
<line x1="686.60" y1="447.50" x2="692.00" y2="449.00" stroke="#262626" stroke-width="1.04"/>
<text transform="matrix(0.26922 0 0 0.23234 654.41 422.00)" font-family="Liberation Sans, sans-serif" font-size="100" font-weight="normal" letter-spacing="0.0" fill="#3a3a3a" stroke="#3a3a3a" stroke-width="1.40">C</text>
<text transform="matrix(0.25969 0 0 0.22747 656.64 443.82)" font-family="Liberation Sans, sans-serif" font-size="100" font-weight="normal" letter-spacing="0.0" fill="#3a3a3a" stroke="#3a3a3a" stroke-width="1.44">L</text>
<text transform="matrix(0.3082 0 0 0.2701 717.00 226.31)" font-family="'Liberation Sans', 'Noto Sans CJK JP', sans-serif" font-size="100" font-weight="normal" fill="#3a3a3a" stroke="#3a3a3a" stroke-width="1.2">洋室</text>
<text transform="matrix(0.36951 0 0 0.29166 700.10 253.14)" font-family="Liberation Sans, sans-serif" font-size="100" font-weight="normal" letter-spacing="0.0" fill="#3a3a3a" stroke="#3a3a3a" stroke-width="1.06">6</text>
<text transform="matrix(0.35527 0 0 0.30015 725.25 253.42)" font-family="Liberation Sans, sans-serif" font-size="100" font-weight="normal" letter-spacing="0.0" fill="#3a3a3a" stroke="#3a3a3a" stroke-width="1.07">7</text>
<text transform="matrix(0.35118 0 0 0.29595 744.97 253.14)" font-family="Liberation Sans, sans-serif" font-size="100" font-weight="normal" letter-spacing="0.0" fill="#3a3a3a" stroke="#3a3a3a" stroke-width="1.08">5</text>
<text transform="matrix(0.33083 0 0 0.32263 717.95 253.42)" font-family="Liberation Sans, sans-serif" font-size="100" font-weight="normal" letter-spacing="0.0" fill="#3a3a3a" stroke="#3a3a3a" stroke-width="1.07">.</text>
<text transform="matrix(0.3047 0 0 0.2634 764.05 253.76)" font-family="'Liberation Sans', 'Noto Sans CJK JP', sans-serif" font-size="100" font-weight="normal" fill="#3a3a3a" stroke="#3a3a3a" stroke-width="1.2">帖</text>
<text transform="matrix(0.2970 0 0 0.2689 739.76 396.72)" font-family="'Liberation Sans', 'Noto Sans CJK JP', sans-serif" font-size="100" font-weight="normal" fill="#3a3a3a" stroke="#3a3a3a" stroke-width="1.2">洋室</text>
<text transform="matrix(0.36084 0 0 0.31991 745.34 424.51)" font-family="Liberation Sans, sans-serif" font-size="100" font-weight="normal" letter-spacing="0.0" fill="#3a3a3a" stroke="#3a3a3a" stroke-width="1.03">6</text>
<text transform="matrix(0.3047 0 0 0.2578 764.05 423.30)" font-family="'Liberation Sans', 'Noto Sans CJK JP', sans-serif" font-size="100" font-weight="normal" fill="#3a3a3a" stroke="#3a3a3a" stroke-width="1.2">帖</text>
<line x1="638.70" y1="473.00" x2="638.70" y2="512.00" stroke="#262626" stroke-width="1.30"/>
<line x1="643.40" y1="473.00" x2="643.40" y2="507.50" stroke="#262626" stroke-width="1.17"/>
<line x1="643.40" y1="507.50" x2="853.50" y2="507.50" stroke="#262626" stroke-width="1.17"/>
<line x1="638.20" y1="512.00" x2="859.20" y2="512.00" stroke="#262626" stroke-width="1.43"/>
<line x1="853.50" y1="473.00" x2="853.50" y2="507.50" stroke="#262626" stroke-width="1.17"/>
<line x1="858.70" y1="473.00" x2="858.70" y2="512.00" stroke="#262626" stroke-width="1.30"/>
<text transform="matrix(0.2359 0 0 0.1630 688.79 497.05)" font-family="'Liberation Sans', 'Noto Sans CJK JP', sans-serif" font-size="100" font-weight="normal" fill="#3a3a3a" stroke="#3a3a3a" stroke-width="1.5">バルコニー</text>
</g>
<g id="compass">
<ellipse cx="812.7" cy="120.6" rx="25" ry="21.2" fill="none" stroke="#262626" stroke-width="1"/>
<path d="M804.00 140.50 L813.00 106.00 L821.20 140.50" fill="none" stroke="#262626" stroke-width="1.17" stroke-linejoin="round" stroke-linecap="round" />
<text transform="matrix(0.09041 0 0 0.07486 809.63 105.83)" font-family="Liberation Sans, sans-serif" font-size="100" font-weight="normal" letter-spacing="0.0" fill="#333" stroke="#333" stroke-width="4.24">N</text>
</g>
<g id="car">
<path d="M238.5 419.2 L256.5 419.2 L257.5 417.8 L284 417.8 L285 419.2 L303.5 419.2 L310 424 L310.4 523 L311 568 L310 578 Q309 585 302 585.3 L240 585.3 Q233 585 232 578 L230.6 568 L231.6 523 L232 424 Z" fill="none" stroke="#3a3d3f" stroke-width="1.56" stroke-linejoin="round" stroke-linecap="round" />
<line x1="234.60" y1="424.00" x2="234.60" y2="470.00" stroke="#3a3d3f" stroke-width="1.04"/>
<line x1="307.20" y1="424.00" x2="307.20" y2="470.00" stroke="#3a3d3f" stroke-width="1.04"/>
<rect x="230.40" y="523.00" width="3.00" height="45.00" fill="#5a5e60"/>
<rect x="308.00" y="523.00" width="3.00" height="45.00" fill="#5a5e60"/>
<line x1="234.20" y1="523.00" x2="234.60" y2="580.00" stroke="#3a3d3f" stroke-width="1.04"/>
<line x1="307.40" y1="523.00" x2="307.60" y2="580.00" stroke="#3a3d3f" stroke-width="1.04"/>
<path d="M240.3 440 L240.3 422.5 L255.5 422.5 L256.5 420.9 L284.5 420.9 L285.5 422.5 L301.2 422.5 L301.2 440" fill="none" stroke="#3a3d3f" stroke-width="1.30" stroke-linejoin="round" stroke-linecap="round" />
<path d="M237.7 447 Q240 443 249 440.6 Q270.5 436.5 291 440.6 Q302.5 443 305 447.5 L297.2 465.2 Q271 456 247 465.2 Z" fill="none" stroke="#3a3d3f" stroke-width="1.56" stroke-linejoin="round" stroke-linecap="round" />
<path d="M234.8 452 L238 459 L245.5 468.5 M238 459 L235.5 466 M307 452 L303.5 459 L297.5 468.5 M303.5 459 L306.5 466" fill="none" stroke="#3a3d3f" stroke-width="1.30" stroke-linejoin="round" stroke-linecap="round" />
<rect x="232.20" y="469.00" width="3.80" height="54.00" fill="#5a5e60"/>
<rect x="305.20" y="469.00" width="4.20" height="54.00" fill="#5a5e60"/>
<rect x="244.20" y="469.00" width="3.80" height="31.00" fill="#5a5e60"/>
<rect x="293.00" y="474.00" width="3.60" height="16.00" fill="#5a5e60"/>
<line x1="247.60" y1="465.00" x2="247.60" y2="500.00" stroke="#3a3d3f" stroke-width="1.17"/>
<line x1="294.60" y1="465.00" x2="294.60" y2="512.00" stroke="#3a3d3f" stroke-width="1.17"/>
<line x1="236.00" y1="489.00" x2="244.50" y2="487.50" stroke="#3a3d3f" stroke-width="2.08"/>
<line x1="296.50" y1="487.50" x2="305.00" y2="490.50" stroke="#3a3d3f" stroke-width="2.08"/>
<path d="M247.5 499 L245 512 L237 524" fill="none" stroke="#5a5e60" stroke-width="3.38" stroke-linejoin="round" stroke-linecap="round" />
<path d="M295.5 499 L296.5 512 L304.5 524" fill="none" stroke="#5a5e60" stroke-width="3.38" stroke-linejoin="round" stroke-linecap="round" />
<line x1="245.50" y1="512.40" x2="295.50" y2="512.40" stroke="#3a3d3f" stroke-width="1.56"/>
<path d="M237 524 L236.3 536 C245 539.5 255 541.3 262 541.3 L280 541.3 C288 541.3 297 539.5 304.5 536 L304.5 524" fill="none" stroke="#3a3d3f" stroke-width="1.56" stroke-linejoin="round" stroke-linecap="round" />
<path d="M231.5 519.5 L228.5 521 L226.4 522.5 L231.5 523.5 M310.5 519.5 L312.5 521 L314.4 522.5 L310.5 523.5" fill="none" stroke="#3a3d3f" stroke-width="1.69" stroke-linejoin="round" stroke-linecap="round" />
<line x1="229.40" y1="505.00" x2="229.40" y2="522.00" stroke="#3a3d3f" stroke-width="1.17"/>
<line x1="312.20" y1="505.00" x2="312.20" y2="522.00" stroke="#3a3d3f" stroke-width="1.17"/>
<path d="M236.8 537 L236.8 577 Q240 580 250 580.5 Q270.5 583.5 291 580.5 Q301 580 304.5 577 L304.5 537" fill="none" stroke="#3a3d3f" stroke-width="1.30" stroke-linejoin="round" stroke-linecap="round" />
<path d="M233 578 Q236 582.5 245 582.7 L296 582.7 Q305 582.5 308.5 578" fill="none" stroke="#3a3d3f" stroke-width="1.17" stroke-linejoin="round" stroke-linecap="round" />
</g>
</svg>
</body></html>
